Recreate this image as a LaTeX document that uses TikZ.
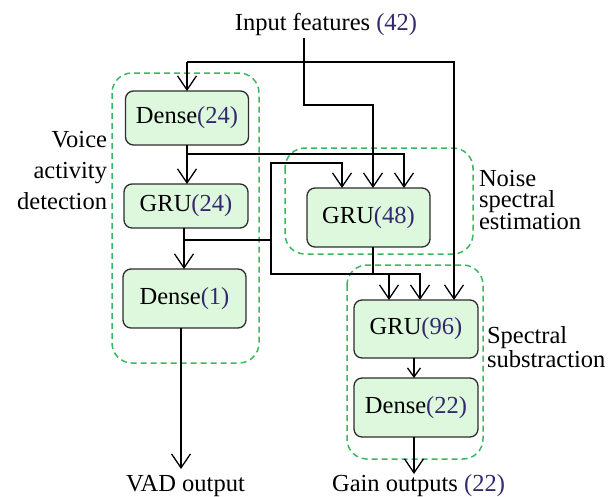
\documentclass[tikz,border=0pt]{standalone}
\usepackage{fontspec}
\setmainfont{Liberation Serif}
\usetikzlibrary{arrows.meta}
\definecolor{numc}{RGB}{52,40,110}
\definecolor{boxfill}{RGB}{222,248,222}
\definecolor{boxline}{RGB}{45,45,45}
\definecolor{grp}{RGB}{55,185,95}
\newcommand\nm[1]{\textcolor{numc}{#1}}
\begin{document}
\begin{tikzpicture}[x=1pt,y=-1pt,
  font=\fontsize{24.5}{29}\selectfont,
  blk/.style={draw=boxline,fill=boxfill,line width=1.3pt,rounded corners=8pt,
    inner sep=0pt,outer sep=0pt,align=center},
  grpbox/.style={draw=grp,line width=1.5pt,dash pattern=on 6pt off 4pt,rounded corners=20pt},
  lbl/.style={inner sep=0pt,outer sep=0pt},
  wire/.style={line width=1.3pt,draw=black},
  arr/.style={wire,-{Straight Barb[length=14pt,width=19pt,line width=1.3pt]}},
  arrs/.style={wire,-{Straight Barb[length=9pt,width=13pt,line width=1.3pt]}}
]
\useasboundingbox (0,0) rectangle (611,496);

% group boxes
\draw[grpbox] (112,73) rectangle (259,363);
\draw[grpbox] (285,148) rectangle (473,254);
\draw[grpbox] (347,265) rectangle (483,459);

% blocks
\node[blk,minimum width=123pt,minimum height=54pt] (d24) at (187,118) {Dense\nm{(24)}};
\node[blk,minimum width=124pt,minimum height=44pt] (g24) at (186,206) {GRU\nm{(24)}};
\node[blk,minimum width=123pt,minimum height=59pt] (d1) at (184.5,298.5) {Dense\nm{(1)}};
\node[blk,minimum width=123pt,minimum height=59pt] (g48) at (368.5,217.5) {GRU\nm{(48)}};
\node[blk,minimum width=124pt,minimum height=58pt] (g96) at (416,329) {GRU\nm{(96)}};
\node[blk,minimum width=124pt,minimum height=59pt] (d22) at (416,407.5) {Dense\nm{(22)}};

% texts
\node[lbl,anchor=base] (inp) at (326,30) {Input features \nm{(42)}};
\node[lbl,anchor=base] (vad) at (185.5,491) {VAD output};
\node[lbl,anchor=base] (gain) at (418.5,491) {Gain outputs \nm{(22)}};

\node[lbl,anchor=north east,align=right,
  font={\fontsize{24.5}{31}\selectfont\lineskiplimit=-50pt}] (vl) at (107,131.5)
  {Voice\\activity\\detection};
\node[lbl,anchor=north west,align=left,
  font={\fontsize{24.5}{21.5}\selectfont\lineskiplimit=-50pt}] (nl) at (479,169.8)
  {Noise\\spectral\\estimation};
\node[lbl,anchor=north west,align=left,
  font={\fontsize{24.5}{24}\selectfont\lineskiplimit=-50pt}] (sl) at (487,326.8)
  {Spectral\\substraction};

% junction coordinates
\coordinate (in0) at (304,38);
\coordinate (jA) at (304,105);
\coordinate (tL) at (187,62);
\coordinate (tR) at (454,62);
\coordinate (b1) at (187,154);
\coordinate (b2) at (184,240);
\coordinate (jC) at (271,163);
\coordinate (jB) at (271,240);
\coordinate (jD) at (271,274);
\coordinate (jE) at (373,274);
\coordinate (vadE) at (181,469);
\coordinate (gainE) at (414,474);

% connectors
\draw[arr] (in0) -- (jA) -| ([xshift=4.5pt]g48.north);
\draw[arr] (tL) -- (d24.north);
\draw[arr] (tL) -- (tR) -- ([xshift=38pt]g96.north);
\draw[arr] (d24.south) -- (d24.south |- g24.north);
\draw[arr] (b1) -| ([xshift=35.5pt]g48.north);
\draw[arr] ([xshift=-2pt]g24.south) -- ([xshift=-2pt]g24.south |- d1.north);
\draw[arr] (b2) -| (jC) -| ([xshift=-26.5pt]g48.north);
\draw[arr] (jB) -- (jD) -| ([xshift=4pt]g96.north);
\draw[arr] ([xshift=4.5pt]g48.south) -- (jE) -| ([xshift=-27pt]g96.north);
\draw[arrs] ([xshift=-2pt]g96.south) -- ([xshift=-2pt]d22.north);
\draw[arr] ([xshift=-3.5pt]d1.south) -- (vadE);
\draw[arr] ([xshift=-2pt]d22.south) -- (gainE);
\end{tikzpicture}
\end{document}
